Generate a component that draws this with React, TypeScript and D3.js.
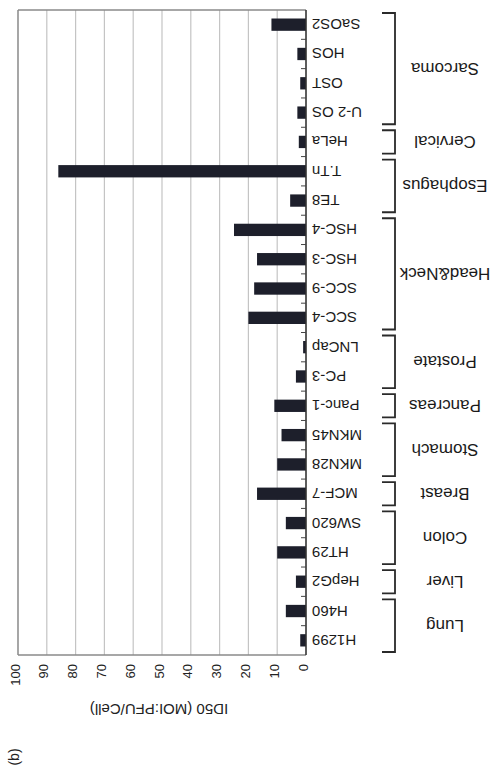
import React from "react";
import * as d3 from "d3";

const categories = [
  "SaOS2", "HOS", "OST", "U-2 OS", "HeLa", "T.Tn", "TE8", "HSC-4", "HSC-3", "SCC-9", "SCC-4",
  "LNCap", "PC-3", "Panc-1", "MKN45", "MKN28", "MCF-7", "SW620", "HT29", "HepG2", "H460", "H1299",
];
const values = [12, 3, 2, 3, 2.5, 86, 5.5, 25, 17, 18, 20, 1, 3.5, 11, 8.5, 10, 17, 7, 10, 3.5, 7, 2];
const groupNames = ["Sarcoma", "Cervical", "Esophagus", "Head&Neck", "Prostate", "Pancreas", "Stomach", "Breast", "Colon", "Liver", "Lung"];
const groupSizes = [4, 1, 2, 4, 2, 1, 2, 1, 2, 1, 2];
const tickValues = [0, 10, 20, 30, 40, 50, 60, 70, 80, 90, 100];
const axisTitle = "ID50 (MOI:PFU/Cell)";
const panelLabel = "(b)";

const FONT = "'Liberation Sans', Arial, Helvetica, sans-serif";

export default function App() {
  const W = 490, H = 771;
  const x = d3.scaleLinear().domain([0, 100]).range([306, 18]);
  const y = d3.scaleBand<string>().domain(categories).range([10, 655]).paddingInner(0.58).paddingOuter(0.29);
  const top = 10, bottom = 655;
  const bandW = (bottom - top) / categories.length;

  let idx = 0;
  const groups = groupNames.map((g, i) => {
    const start = idx;
    idx += groupSizes[i];
    return { name: g, y0: top + start * bandW, y1: top + idx * bandW };
  });

  return (
    <svg width={W} height={H} style={{ position: "absolute", left: 0, top: 0, background: "#fff" }} fontFamily={FONT}>
      <rect x={0} y={0} width={W} height={H} fill="#fff" />
      {tickValues.map((t) => (
        <line key={"g" + t} x1={x(t)} x2={x(t)} y1={top} y2={bottom} stroke="#c4c4c4" strokeWidth={1.2} />
      ))}
      <line x1={x(100)} x2={x(0)} y1={top} y2={top} stroke="#8a8a8a" strokeWidth={1.3} />
      <line x1={x(100)} x2={x(0)} y1={bottom} y2={bottom} stroke="#8a8a8a" strokeWidth={1.3} />
      <line x1={x(100)} x2={x(100)} y1={top} y2={bottom} stroke="#8a8a8a" strokeWidth={1.3} />
      {categories.map((c, i) => (
        <rect key={c} x={x(values[i])} y={y(c)} width={x(0) - x(values[i])} height={y.bandwidth()} fill="#1d1f2b" />
      ))}
      <line x1={x(0)} x2={x(0)} y1={top} y2={bottom} stroke="#333" strokeWidth={1.5} />
      {d3.range(1, categories.length).map((k) => (
        <line key={"t" + k} x1={x(0) - 5} x2={x(0)} y1={top + k * bandW} y2={top + k * bandW} stroke="#444" strokeWidth={1} />
      ))}
      {categories.map((c) => (
        <text key={"l" + c} transform={`translate(${x(0) + 6},${(y(c) as number) + y.bandwidth() / 2}) rotate(180)`}
          textAnchor="end" dominantBaseline="central" fontSize={15} fill="#1a1a1a">{c}</text>
      ))}
      {groups.map((g) => {
        const a = g.y0 + 3, b = g.y1 - 3;
        return (
          <g key={"b" + g.name}>
            <path d={`M382,${a} H395 V${b} H382`} fill="none" stroke="#2a2a2a" strokeWidth={1.8} />
            <text transform={`translate(445,${(g.y0 + g.y1) / 2}) rotate(180)`} textAnchor="middle" dominantBaseline="central"
              fontSize={17} fill="#1a1a1a">{g.name}</text>
          </g>
        );
      })}
      {tickValues.map((t) => (
        <text key={"v" + t} transform={`translate(${x(t) - 3},664) rotate(-90)`} textAnchor="end" dominantBaseline="central"
          fontSize={13} fill="#222">{t}</text>
      ))}
      <text transform={`translate(159,709) rotate(180)`} textAnchor="middle" dominantBaseline="central" fontSize={15} fill="#222">{axisTitle}</text>
      <text transform={`translate(14,757) rotate(-90)`} textAnchor="middle" dominantBaseline="central" fontSize={14} fill="#222">{panelLabel}</text>
    </svg>
  );
}
